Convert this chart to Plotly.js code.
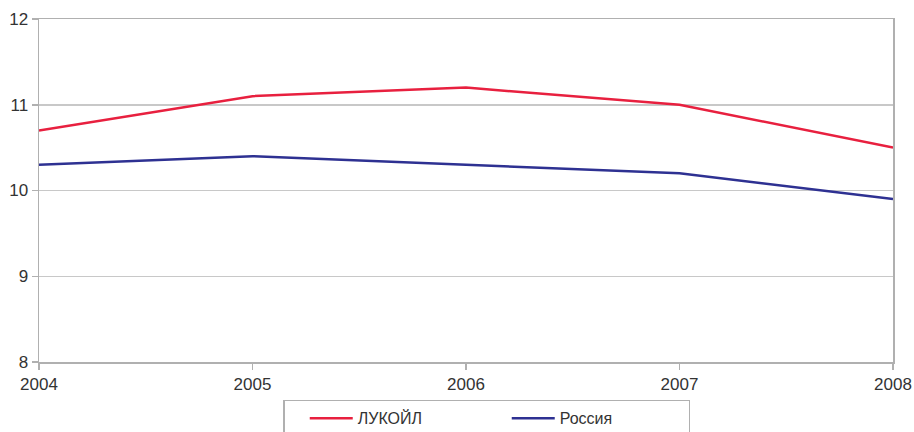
<!DOCTYPE html>
<html><head><meta charset="utf-8">
<script src="https://cdn.plot.ly/plotly-3.0.1.min.js"></script>
<style>html,body{margin:0;padding:0;background:#fff}</style>
</head><body>
<div id="chart" style="width:914px;height:432px"></div>
<script>
const years = [2004, 2005, 2006, 2007, 2008];
const lukoil = [10.7, 11.1, 11.2, 11.0, 10.5];
const russia = [10.3, 10.4, 10.3, 10.2, 9.9];
const seriesNames = ['ЛУКОЙЛ', 'Россия'];

const traces = [
  {x: years, y: lukoil, name: seriesNames[0], type: 'scatter', mode: 'lines',
   line: {color: '#e8203f', width: 2.5}},
  {x: years, y: russia, name: seriesNames[1], type: 'scatter', mode: 'lines',
   line: {color: '#2e3192', width: 2.5}}
];

const layout = {
  width: 914, height: 432,
  margin: {l: 39, r: 21, t: 19, b: 70, autoexpand: false},
  paper_bgcolor: '#fff', plot_bgcolor: '#fff',
  font: {family: 'Liberation Sans, Arial, sans-serif', size: 17, color: '#333'},
  xaxis: {range: [2004, 2008], tickvals: years, ticktext: years.map(String),
    showgrid: false, zeroline: false, showline: true, linecolor: '#b0b0b0', linewidth: 1.5,
    mirror: true, ticks: 'outside', ticklen: 6, tickcolor: '#b0b0b0', tickwidth: 1.5},
  yaxis: {range: [8, 12], dtick: 1, showgrid: true, gridcolor: '#c8c8c8', gridwidth: 1.5,
    zeroline: false, showline: true, linecolor: '#b0b0b0', linewidth: 1.5, mirror: true,
    ticks: 'outside', ticklen: 6, tickcolor: '#b0b0b0', tickwidth: 1.5},
  showlegend: true,
  legend: {orientation: 'h', x: 0.286, xanchor: 'left', y: -0.11, yanchor: 'top',
    bordercolor: '#b0b0b0', borderwidth: 1.5, bgcolor: '#fff', indentation: 20,
    font: {size: 16, color: '#333'}, entrywidth: 124, itemwidth: 43}
};
Plotly.newPlot('chart', traces, layout, {displayModeBar: false, staticPlot: true});
</script>
</body></html>
